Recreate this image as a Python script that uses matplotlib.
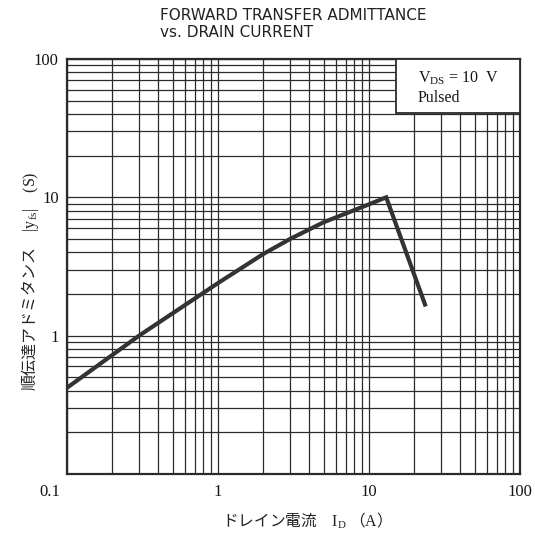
import matplotlib
matplotlib.use("Agg")
import matplotlib.pyplot as plt
from matplotlib.patches import Rectangle
from matplotlib.ticker import LogLocator, NullFormatter, FixedLocator, FixedFormatter
import matplotlib.transforms as mtransforms

# Data
drain_current = [0.1, 0.3, 1.0, 2.0, 3.0, 5.0, 10.0, 13.0, 23.5]
admittance = [0.42, 1.0, 2.4, 3.9, 5.0, 6.6, 8.9, 10.0, 1.68]

x_ticks = [0.1, 1, 10, 100]
x_tick_labels = ["0.1", "1", "10", "100"]
y_ticks = [1, 10, 100]
y_tick_labels = ["1", "10", "100"]

title_lines = "FORWARD TRANSFER ADMITTANCE\nvs. DRAIN CURRENT"
xlabel = "ドレイン電流　$\\mathrm{I_D}$ （$\\mathrm{A}$）"
ylabel = "順伝達アドミタンス　$\\mathrm{|y_{fs}|}$　$\\mathrm{(S)}$"
note_line1 = "V$_\\mathregular{DS}$ = 10  V"
note_line2 = "Pulsed"

ink = "#2b2b2b"
serif = ["Liberation Serif", "DejaVu Serif"]
jp = ["Noto Sans CJK JP", "DejaVu Sans"]

plt.rcParams["mathtext.fontset"] = "custom"
plt.rcParams["mathtext.rm"] = "Liberation Serif"

fig = plt.figure(figsize=(5.35, 5.35), dpi=100)
ax = fig.add_axes([67 / 535, 1 - 474 / 535, 453 / 535, 415 / 535])
ax.set_xscale("log")
ax.set_yscale("log")
ax.set_xlim(0.1, 100)
ax.set_ylim(0.1, 100)

ax.xaxis.set_major_locator(FixedLocator(x_ticks))
ax.xaxis.set_major_formatter(FixedFormatter(x_tick_labels))
ax.yaxis.set_major_locator(FixedLocator(y_ticks))
ax.yaxis.set_major_formatter(FixedFormatter(y_tick_labels))
ax.xaxis.set_minor_locator(LogLocator(base=10, subs=range(2, 10)))
ax.yaxis.set_minor_locator(LogLocator(base=10, subs=range(2, 10)))
ax.xaxis.set_minor_formatter(NullFormatter())
ax.yaxis.set_minor_formatter(NullFormatter())

ax.grid(True, which="both", color=ink, linewidth=0.9)
ax.tick_params(which="both", length=0)
ax.tick_params(axis="x", pad=7)
ax.tick_params(axis="y", pad=6)
for lab in ax.get_xticklabels() + ax.get_yticklabels():
    lab.set_fontfamily(serif)
    lab.set_fontsize(12)
    lab.set_color("#151515")
ax.set_axisbelow(True)

# shift the "0.1" label to the left as in the reference
xl = ax.get_xticklabels()
off = mtransforms.ScaledTranslation(-17 / 100, 0, fig.dpi_scale_trans)
xl[0].set_transform(xl[0].get_transform() + off)

for s in ax.spines.values():
    s.set_linewidth(1.6)
    s.set_color(ink)

ax.plot(drain_current, admittance, color="#333333", linewidth=3.0,
        solid_joinstyle="miter", zorder=3)

# note box
box_x0 = (396 - 67) / 453
box_y0 = (474 - 113) / 415
ax.add_patch(Rectangle((box_x0, box_y0), 1 - box_x0, 1 - box_y0,
                       transform=ax.transAxes, facecolor="white",
                       edgecolor=ink, linewidth=1.3, zorder=4))
ax.text(box_x0 + 0.048, 0.955, note_line1, transform=ax.transAxes,
        fontfamily=serif, fontsize=11.5, va="center", ha="left", zorder=5, color="#151515")
ax.text(box_x0 + 0.048, 0.905, note_line2, transform=ax.transAxes,
        fontfamily=serif, fontsize=11.5, va="center", ha="left", zorder=5, color="#151515")

fig.text(160 / 535, 1 - 24 / 535, title_lines, ha="left", va="center",
         fontfamily=["DejaVu Sans"], fontsize=11, linespacing=1.15, color="#222222")

fig.text(302 / 535, 1 - 521 / 535, xlabel, ha="center", va="center",
         fontfamily=jp, fontsize=11.3, color="#222222")
fig.text(30 / 535, 1 - 281 / 535, ylabel, ha="center", va="center", rotation=90,
         fontfamily=jp, fontsize=11.5, color="#222222")

fig.savefig("out.png", dpi=100)
